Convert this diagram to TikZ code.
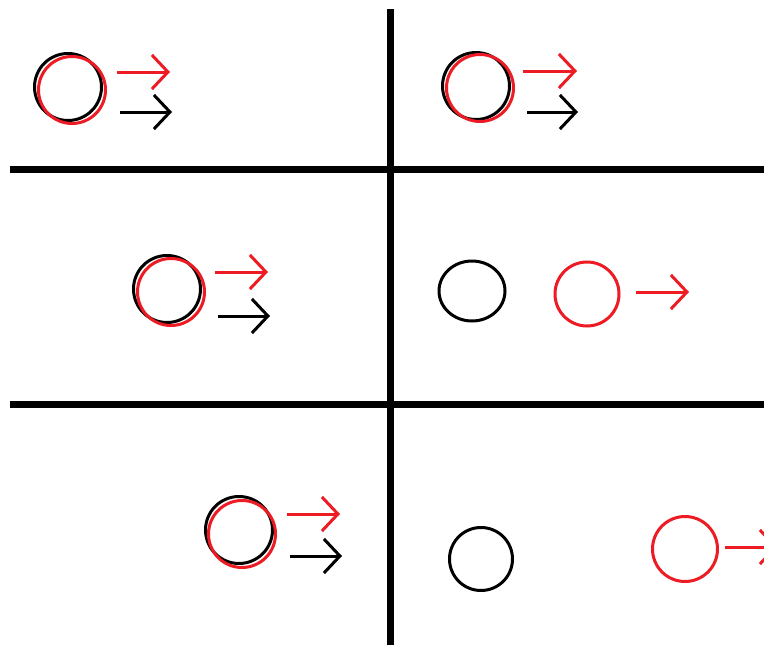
\documentclass[tikz,border=0pt]{standalone}
\usetikzlibrary{arrows.meta,shapes.geometric}
\definecolor{myred}{RGB}{237,28,36}
\tikzset{
  grid/.style={line width=7pt, black},
  ball/.style={circle, draw, line width=3pt, minimum size=67pt, inner sep=0pt},
  redball/.style={ball, draw=myred},
  blackball/.style={ball, draw=black},
  vel/.style={line width=3pt, -{Straight Barb[length=16pt, width=34pt, line width=3pt]}},
  redvel/.style={vel, myred},
  blackvel/.style={vel, black}
}
\begin{document}
\begin{tikzpicture}[x=1pt,y=-1pt]
\useasboundingbox (0,0) rectangle (764,645);
\fill[white] (0,0) rectangle (764,645);
\clip (0,0) rectangle (764,645);
% grid
\coordinate (vtop) at (390,9);
\coordinate (vbot) at (390,645);
\coordinate (h1l) at (10,169);
\coordinate (h1r) at (764,169);
\coordinate (h2l) at (10,404);
\coordinate (h2r) at (764,404);
\draw[grid] (vtop) -- (vbot);
\draw[grid] (h1l) -- (h1r);
\draw[grid] (h2l) -- (h2r);
% panel 1
\node[blackball] (b1) at (68,87) {};
\node[redball] (r1) at (72,90) {};
\coordinate (r1s) at (117,72); \coordinate (r1e) at (170,72);
\coordinate (b1s) at (120,112); \coordinate (b1e) at (172,112);
\draw[redvel] (r1s) -- (r1e);
\draw[blackvel] (b1s) -- (b1e);
% panel 2
\node[blackball] (b2) at (476,86) {};
\node[redball] (r2) at (480,88) {};
\coordinate (r2s) at (523,71); \coordinate (r2e) at (577,71);
\coordinate (b2s) at (527,112); \coordinate (b2e) at (578,112);
\draw[redvel] (r2s) -- (r2e);
\draw[blackvel] (b2s) -- (b2e);
% panel 3
\node[blackball] (b3) at (167,289) {};
\node[redball] (r3) at (171,292) {};
\coordinate (r3s) at (215,272); \coordinate (r3e) at (268,272);
\coordinate (b3s) at (218,316); \coordinate (b3e) at (270,316);
\draw[redvel] (r3s) -- (r3e);
\draw[blackvel] (b3s) -- (b3e);
% panel 4
\node[ellipse, draw=black, line width=3pt, inner sep=0pt, minimum width=66pt, minimum height=60pt] (b4) at (472,291) {};
\node[redball, minimum size=64pt] (r4) at (587,294) {};
\coordinate (r4s) at (636,292); \coordinate (r4e) at (689,292);
\draw[redvel] (r4s) -- (r4e);
% panel 5
\node[blackball] (b5) at (239,530) {};
\node[redball] (r5) at (242,534) {};
\coordinate (r5s) at (287,514); \coordinate (r5e) at (340,514);
\coordinate (b5s) at (290,556); \coordinate (b5e) at (342,556);
\draw[redvel] (r5s) -- (r5e);
\draw[blackvel] (b5s) -- (b5e);
% panel 6
\node[blackball, minimum size=63pt] (b6) at (481,559) {};
\node[redball, minimum size=65pt] (r6) at (685,549) {};
\coordinate (r6s) at (725,547); \coordinate (r6e) at (778,547);
\draw[redvel] (r6s) -- (r6e);
\end{tikzpicture}
\end{document}
